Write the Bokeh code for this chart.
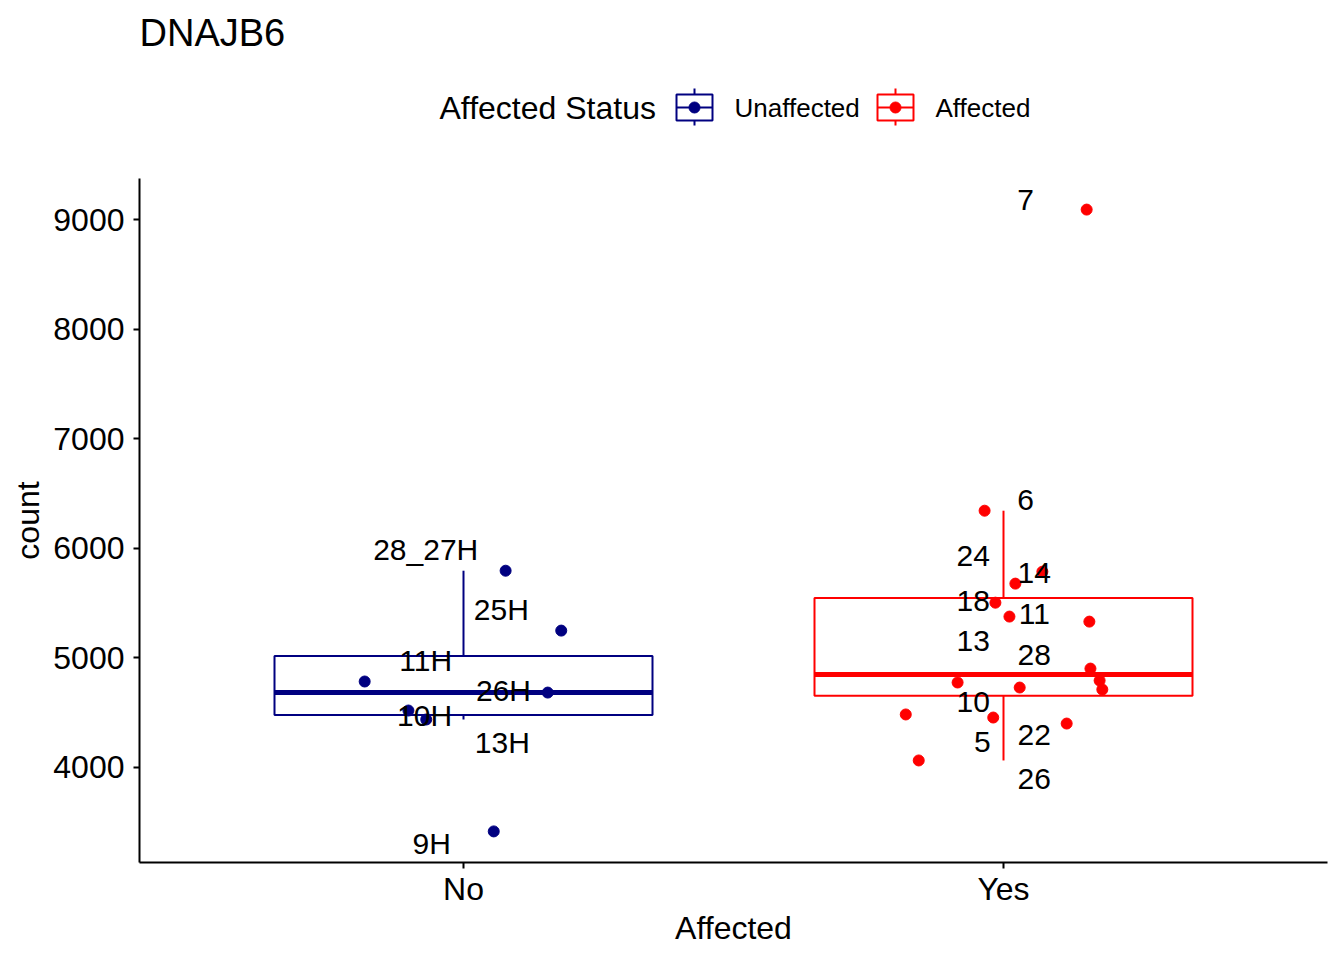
import numpy as np
from bokeh.plotting import figure
from bokeh.models import Range1d, FixedTicker, BasicTickFormatter
from bokeh.layouts import column
from bokeh.embed import file_html
from bokeh.resources import INLINE
from bokeh.core.properties import value

# ---------------- data ----------------
title_text = "DNAJB6"
categories = ["No", "Yes"]
group_names = ["Unaffected", "Affected"]
group_colors = ["#000080", "#FF0000"]
legend_title = "Affected Status"
x_label = "Affected"
y_label = "count"
y_ticks = [4000, 5000, 6000, 7000, 8000, 9000]

no_counts = [5797, 5250, 4785, 4684, 4520, 4438, 3416]
no_jitter = [0.078, 0.181, -0.183, 0.156, -0.102, -0.069, 0.056]

yes_counts = [6345, 9095, 5788, 5679, 5505, 5378, 5332, 4903,
              4794, 4712, 4776, 4730, 4484, 4456, 4401, 4064]
yes_jitter = [-0.035, 0.154, 0.072, 0.022, -0.015, 0.011, 0.159, 0.161,
              0.178, 0.183, -0.085, 0.030, -0.181, -0.019, 0.117, -0.157]

no_labels = ["28_27H", "25H", "11H", "26H", "10H", "13H", "9H"]
no_label_y = [5989, 5442, 4976, 4703, 4474, 4228, 3307]
no_label_dx = [-0.070, 0.070, -0.070, 0.074, -0.072, 0.072, -0.059]

yes_labels = ["7", "6", "24", "14", "18", "11", "13", "28", "10", "5", "22", "26"]
yes_label_y = [9182, 6445, 5934, 5779, 5524, 5405, 5159, 5031, 4602, 4237, 4292, 3891]
yes_label_dx = [0.041, 0.041, -0.056, 0.057, -0.056, 0.057, -0.056, 0.057,
                -0.056, -0.039, 0.057, 0.057]

FONT = "Liberation Sans"

groups = [
    (1, no_counts, no_jitter, no_labels, no_label_y, no_label_dx),
    (2, yes_counts, yes_jitter, yes_labels, yes_label_y, yes_label_dx),
]

# y range like ggplot (5% expansion)
all_vals = np.array(no_counts + yes_counts, dtype=float)
span = all_vals.max() - all_vals.min()
y_lo = all_vals.min() - 0.05 * span
y_hi = all_vals.max() + 0.05 * span

# ---------------- main plot ----------------
p = figure(width=1344, height=810, x_range=Range1d(0.4, 2.6),
           y_range=Range1d(y_lo, y_hi), output_backend="svg",
           toolbar_location=None, min_border_left=139, min_border_right=17,
           min_border_top=28, min_border_bottom=98)
p.xgrid.visible = False
p.ygrid.visible = False
p.outline_line_color = None
p.background_fill_color = "white"

for ax in (p.xaxis[0], p.yaxis[0]):
    ax.axis_line_width = 2
    ax.axis_line_color = "black"
    ax.major_tick_line_width = 2
    ax.major_tick_line_color = "black"
    ax.major_tick_out = 6
    ax.major_tick_in = 0
    ax.minor_tick_out = 0
    ax.minor_tick_in = 0
    ax.major_label_text_font = FONT
    ax.major_label_text_font_size = "32px"
    ax.major_label_text_color = "black"
    ax.axis_label_text_font = FONT
    ax.axis_label_text_font_size = "32px"
    ax.axis_label_text_font_style = "normal"
    ax.axis_label_text_color = "black"

p.yaxis.ticker = FixedTicker(ticks=y_ticks)
p.yaxis.formatter = BasicTickFormatter(use_scientific=False)
p.yaxis.major_label_standoff = 9
p.yaxis.axis_label = y_label
p.yaxis.axis_label_standoff = 4

p.xaxis.ticker = FixedTicker(ticks=[1, 2])
p.xaxis.major_label_overrides = {1: categories[0], 2: categories[1]}
p.xaxis.major_label_standoff = 2
p.xaxis.axis_label = x_label
p.xaxis.axis_label_standoff = 0

for (pos, counts, jit, labs, lab_y, lab_dx), color in zip(groups, group_colors):
    v = np.array(counts, dtype=float)
    q1, med, q3 = np.percentile(v, [25, 50, 75])
    iqr = q3 - q1
    upper = v[v <= q3 + 1.5 * iqr].max()
    lower = v[v >= q1 - 1.5 * iqr].min()
    # whiskers
    p.segment(x0=[pos, pos], y0=[q3, q1], x1=[pos, pos], y1=[upper, lower],
              line_color=color, line_width=2)
    # box
    p.quad(left=[pos - 0.35], right=[pos + 0.35], bottom=[q1], top=[q3],
           fill_color="white", line_color=color, line_width=2)
    # median
    p.segment(x0=[pos - 0.35], y0=[med], x1=[pos + 0.35], y1=[med],
              line_color=color, line_width=5)
    # jittered points
    p.scatter(x=[pos + j for j in jit], y=counts, size=11,
              fill_color=color, line_color=color)
    # labels
    p.text(x=[pos + d for d in lab_dx], y=lab_y, text=labs,
           text_font=value(FONT), text_font_size="30px",
           text_align="center", text_baseline="middle", text_color="black")

# ---------------- header (title + legend) ----------------
# frame of this header is aligned with the main frame (x = page px)
h = figure(width=1344, height=150, x_range=Range1d(139, 1327),
           y_range=Range1d(150, 0), output_backend="svg",
           toolbar_location=None, x_axis_type=None, y_axis_type=None,
           min_border=0)
h.xgrid.visible = False
h.ygrid.visible = False
h.outline_line_color = None

h.text(x=[139], y=[32], text=[title_text], text_font=value(FONT),
       text_font_size="38px", text_align="left", text_baseline="middle",
       text_color="black")
h.text(x=[439], y=[107], text=[legend_title], text_font=value(FONT),
       text_font_size="32px", text_align="left", text_baseline="middle",
       text_color="black")

key_cx = [694, 895]
label_x = [734, 935]
for cx, lx, name, color in zip(key_cx, label_x, group_names, group_colors):
    h.segment(x0=[cx, cx], y0=[88, 120], x1=[cx, cx], y1=[94, 125],
              line_color=color, line_width=2)
    h.quad(left=[cx - 18], right=[cx + 18], top=[94], bottom=[120],
           fill_color="white", line_color=color, line_width=2)
    h.segment(x0=[cx - 18], y0=[107], x1=[cx + 18], y1=[107],
              line_color=color, line_width=2)
    h.scatter(x=[cx], y=[107], size=11, fill_color=color, line_color=color)
    h.text(x=[lx], y=[107], text=[name], text_font=value(FONT),
           text_font_size="26px", text_align="left", text_baseline="middle",
           text_color="black")

layout = column(h, p, spacing=0)
open("out.html", "w").write(file_html(layout, INLINE))
